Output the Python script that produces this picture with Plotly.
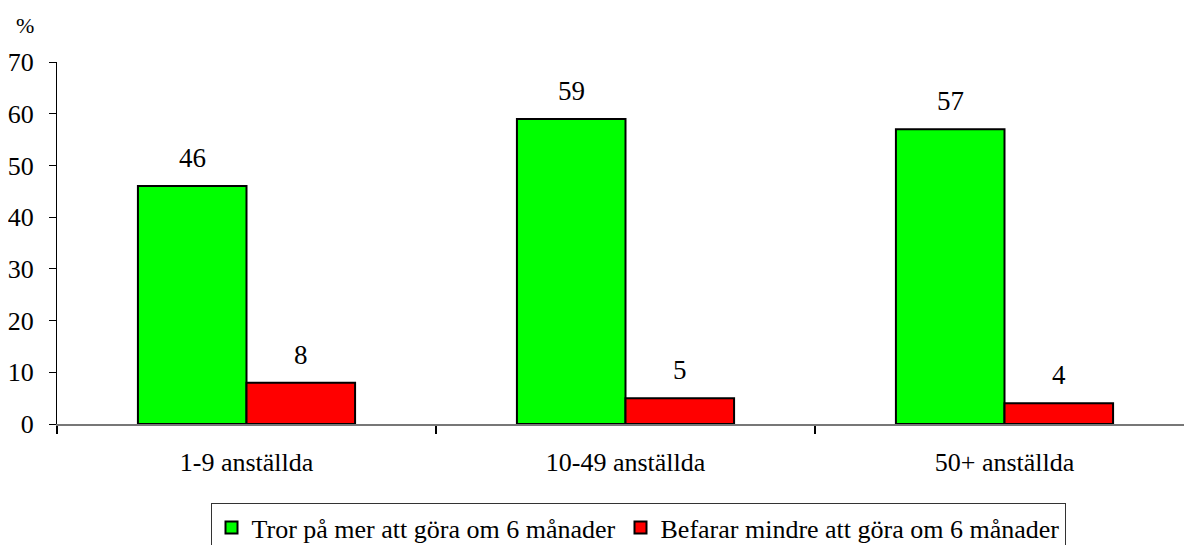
import plotly.graph_objects as go

categories = ["1-9 anställda", "10-49 anställda", "50+ anställda"]
series_names = ["Tror på mer att göra om 6 månader", "Befarar mindre att göra om 6 månader"]
tror_mer = [46, 59, 57]
befarar_mindre = [8, 5, 4]
y_ticks = [0, 10, 20, 30, 40, 50, 60, 70]

FONT = "Liberation Serif, Times New Roman, serif"
BARGAP = 0.427
# page body has an 8px margin; compensate in figure margins
OFF = 8
W, H = 1192, 545
L, T = 57 - OFF, 62 - OFF
PLOT_W, PLOT_H = 1137, 362
R = W - L - PLOT_W
B = H - T - PLOT_H

fig = go.Figure()
fig.add_trace(go.Bar(x=categories, y=tror_mer, name=series_names[0],
                     marker=dict(color="#00FF00", line=dict(color="black", width=2))))
fig.add_trace(go.Bar(x=categories, y=befarar_mindre, name=series_names[1],
                     marker=dict(color="#FF0000", line=dict(color="black", width=2))))

half = (1 - BARGAP) / 4
for vals, off in ((tror_mer, -half), (befarar_mindre, half)):
    for i, v in enumerate(vals):
        fig.add_annotation(x=i + off, y=v, xref="x", yref="y", text=str(v),
                           showarrow=False, yanchor="bottom", yshift=11,
                           font=dict(family=FONT, size=27, color="black"))

fig.add_annotation(xref="paper", yref="paper", x=-32 / PLOT_W, y=(424 - 25) / PLOT_H,
                   xanchor="center", yanchor="middle", text="%", showarrow=False,
                   font=dict(family=FONT, size=22, color="black"))

fig.update_layout(
    width=W, height=H,
    margin=dict(l=L, r=R, t=T, b=B, autoexpand=False),
    paper_bgcolor="white", plot_bgcolor="white",
    barmode="group", bargap=BARGAP, bargroupgap=0,
    font=dict(family=FONT, size=25, color="black"),
    showlegend=True,
    legend=dict(orientation="h", xref="container", x=(638 - OFF) / W, xanchor="center",
                yref="container", y=1 - (503 - OFF) / H, yanchor="top",
                bordercolor="#333", borderwidth=1, font=dict(family=FONT, size=26),
                traceorder="normal"),
    xaxis=dict(type="category", showline=True, linecolor="#777", linewidth=2,
               ticks="outside", tickson="boundaries", ticklen=8, tickcolor="black",
               tickwidth=2, showgrid=False, ticklabelstandoff=14, automargin=False,
               tickfont=dict(family=FONT, size=26)),
    yaxis=dict(range=[0, 70], tickvals=y_ticks, showline=True, linecolor="black",
               linewidth=1, ticks="outside", ticklen=7, tickcolor="black",
               showgrid=False, zeroline=False, tickfont=dict(family=FONT, size=26),
               ticklabelstandoff=10, automargin=False),
)

fig.write_html("out.html")
